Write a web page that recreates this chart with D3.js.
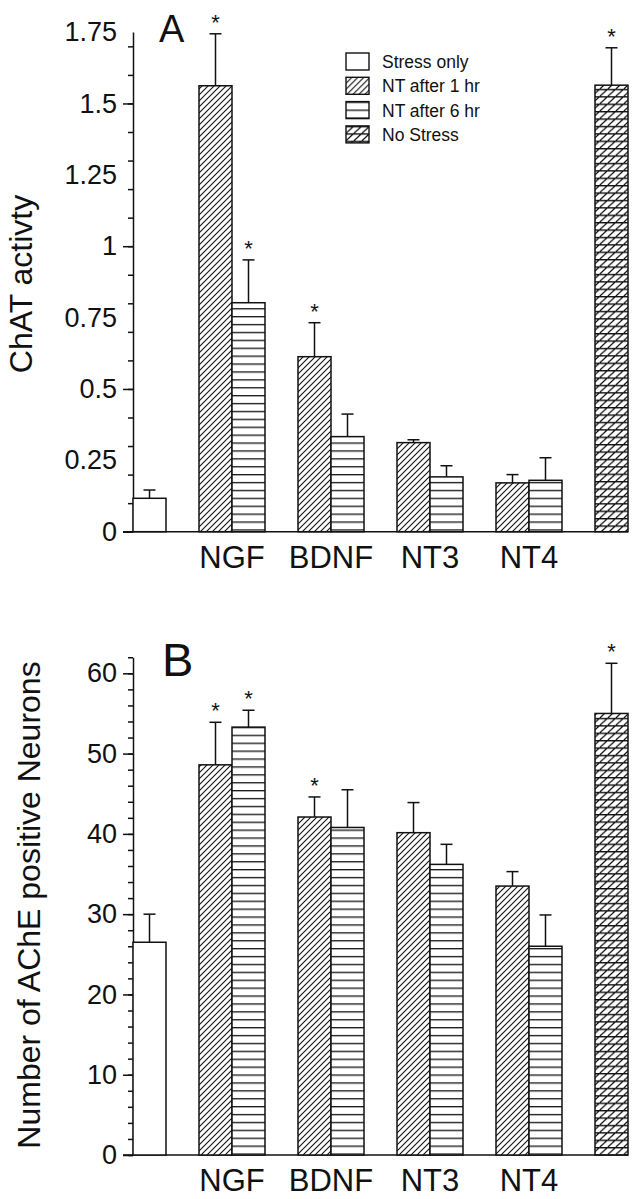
<!DOCTYPE html>
<html>
<head>
<meta charset="utf-8">
<script src="https://cdn.jsdelivr.net/npm/d3@7"></script>
<style>
  html, body { margin: 0; padding: 0; background: #fff; }
  svg { display: block; }
  text { font-family: "Liberation Sans", Arial, Helvetica, sans-serif; fill: #111; }
</style>
</head>
<body>
<svg id="chart" width="638" height="1199"></svg>
<script>
// ---------------- DATA ----------------
const categories = ["NGF", "BDNF", "NT3", "NT4"];
const seriesNames = ["Stress only", "NT after 1 hr", "NT after 6 hr", "No Stress"];

// Panel A: ChAT activity
const stressOnlyA = 0.117, stressOnlyErrA = 0.029;
const nt1hrA = [1.562, 0.613, 0.312, 0.171];
const nt1hrErrA = [0.182, 0.119, 0.010, 0.029];
const nt6hrA = [0.802, 0.333, 0.192, 0.180];
const nt6hrErrA = [0.150, 0.079, 0.039, 0.079];
const noStressA = 1.564, noStressErrA = 0.131;
const starsA = ["NGF|1", "NGF|6", "BDNF|1", "NS"];
const yTicksA = ["0", "0.25", "0.5", "0.75", "1", "1.25", "1.5", "1.75"];
const yMinorA = 0.1, yMajorA = 0.5, yMaxA = 1.75;

// Panel B: AChE positive neurons
const stressOnlyB = 26.5, stressOnlyErrB = 3.5;
const nt1hrB = [48.6, 42.1, 40.15, 33.5];
const nt1hrErrB = [5.3, 2.5, 3.75, 1.8];
const nt6hrB = [53.3, 40.8, 36.2, 26.0];
const nt6hrErrB = [2.1, 4.7, 2.5, 3.9];
const noStressB = 55.0, noStressErrB = 6.25;
const starsB = ["NGF|1", "NGF|6", "BDNF|1", "NS"];
const yTicksB = ["0", "10", "20", "30", "40", "50", "60"];
const yMinorB = 2, yMajorB = 10, yMaxB = 62;

// ---------------- SETUP ----------------
const svg = d3.select("#chart");
svg.append("rect").attr("width", 638).attr("height", 1199).attr("fill", "#fff");
const ink = "#111";

// patterns
const defs = svg.append("defs");
const pDiag = defs.append("pattern").attr("id", "pDiag")
  .attr("patternUnits", "userSpaceOnUse").attr("width", 6).attr("height", 6);
pDiag.append("rect").attr("width", 6).attr("height", 6).attr("fill", "#fff");
pDiag.append("path").attr("d", "M-1,1 L1,-1 M0,6 L6,0 M5,7 L7,5")
  .attr("stroke", ink).attr("stroke-width", 1.1);

const pHor = defs.append("pattern").attr("id", "pHor")
  .attr("patternUnits", "userSpaceOnUse").attr("width", 8).attr("height", 7.9);
pHor.append("rect").attr("width", 8).attr("height", 7.9).attr("fill", "#fff");
pHor.append("path").attr("d", "M0,0.7 H8").attr("stroke", ink).attr("stroke-width", 1.3);

const pBoth = defs.append("pattern").attr("id", "pBoth")
  .attr("patternUnits", "userSpaceOnUse").attr("width", 8).attr("height", 7.4);
pBoth.append("rect").attr("width", 8).attr("height", 7.4).attr("fill", "#fff");
pBoth.append("path").attr("d", "M0,0.7 H8 M0,7.4 L8,0 M-1,0.9 L1,-0.9 M7,8.3 L9,6.5")
  .attr("stroke", ink).attr("stroke-width", 1.2);

const fills = { "Stress only": "#fff", "NT after 1 hr": "url(#pDiag)", "NT after 6 hr": "url(#pHor)", "No Stress": "url(#pBoth)" };

// slot layout from categories
const slots = ["SO"];
categories.forEach(c => { slots.push(c + "|gap", c + "|1", c + "|6"); });
slots.push("NS|gap", "NS");

function buildBars(so, soErr, a1, a1e, a6, a6e, ns, nsErr) {
  const bars = [{ key: "SO", series: "Stress only", v: so, e: soErr }];
  categories.forEach((c, i) => {
    bars.push({ key: c + "|1", series: "NT after 1 hr", v: a1[i], e: a1e[i] });
    bars.push({ key: c + "|6", series: "NT after 6 hr", v: a6[i], e: a6e[i] });
  });
  bars.push({ key: "NS", series: "No Stress", v: ns, e: nsErr });
  return bars;
}

function drawPanel(opt) {
  const g = svg.append("g");
  const x = d3.scaleBand().domain(slots).range([133, 628]).padding(0);
  const y = d3.scaleLinear().domain([0, opt.yMax]).range([opt.y0, opt.yTop]);

  // minor ticks
  const minorVals = d3.range(0, opt.yMax + 1e-9, opt.minor).map(v => +v.toFixed(6));
  g.append("g").attr("transform", "translate(133,0)")
    .call(d3.axisLeft(y).tickValues(minorVals).tickSize(5).tickSizeOuter(0).tickFormat(""))
    .call(s => s.selectAll("line,path").attr("stroke", ink).attr("stroke-width", 1.5));
  const majorVals = d3.range(0, opt.yMax + 1e-9, opt.major).map(v => +v.toFixed(6));
  g.append("g").attr("transform", "translate(133,0)")
    .call(d3.axisLeft(y).tickValues(majorVals).tickSize(10).tickSizeOuter(0).tickFormat(""))
    .call(s => s.select(".domain").remove())
    .call(s => s.selectAll("line").attr("stroke", ink).attr("stroke-width", 1.5));
  // labels
  const lab = g.append("g").attr("transform", "translate(133,0)")
    .call(d3.axisLeft(y).tickValues(opt.tickLabels.map(Number)).tickSize(0).tickPadding(16)
      .tickFormat((d, i) => opt.tickLabels[i]));
  lab.select(".domain").remove();
  lab.selectAll("text").attr("font-size", 27).attr("fill", ink)
    .attr("font-family", "'Liberation Sans', Arial, sans-serif");

  // baseline (x axis)
  g.append("line").attr("x1", 123).attr("x2", x.range()[1])
    .attr("y1", y(0)).attr("y2", y(0)).attr("stroke", ink).attr("stroke-width", 1.6);

  // bars
  const bars = buildBars(...opt.data);
  g.selectAll("rect.bar").data(bars).join("rect").attr("class", "bar")
    .attr("x", d => x(d.key)).attr("width", x.bandwidth())
    .attr("y", d => y(d.v)).attr("height", d => y(0) - y(d.v))
    .attr("fill", d => fills[d.series]).attr("stroke", ink).attr("stroke-width", 1.5);

  // error bars
  const cap = 6;
  const eb = g.selectAll("g.eb").data(bars).join("g").attr("class", "eb");
  eb.append("line").attr("x1", d => x(d.key) + x.bandwidth() / 2).attr("x2", d => x(d.key) + x.bandwidth() / 2)
    .attr("y1", d => y(d.v)).attr("y2", d => y(d.v + d.e)).attr("stroke", ink).attr("stroke-width", 1.5);
  eb.append("line").attr("x1", d => x(d.key) + x.bandwidth() / 2 - cap).attr("x2", d => x(d.key) + x.bandwidth() / 2 + cap)
    .attr("y1", d => y(d.v + d.e)).attr("y2", d => y(d.v + d.e)).attr("stroke", ink).attr("stroke-width", 1.5);

  // significance stars
  g.selectAll("text.star").data(bars.filter(b => opt.stars.includes(b.key))).join("text")
    .attr("class", "star")
    .attr("x", d => x(d.key) + x.bandwidth() / 2)
    .attr("y", d => y(d.v + d.e) - 16 + 12)
    .attr("text-anchor", "middle").attr("font-size", 22).text("*");

  // category labels
  g.selectAll("text.cat").data(categories).join("text").attr("class", "cat")
    .attr("x", c => x(c + "|6"))
    .attr("y", y(0) + 36)
    .attr("text-anchor", "middle").attr("font-size", 31).text(c => c);

  // y title
  g.append("text").attr("transform", `translate(${opt.titleX},${opt.titleY}) rotate(-90)`)
    .attr("text-anchor", "middle").attr("font-size", 32).text(opt.title);

  // panel letter
  g.append("text").attr("x", opt.letterX).attr("y", opt.letterY)
    .attr("font-size", opt.letterSize).text(opt.letter);

  return { x, y };
}

drawPanel({
  yMax: yMaxA, y0: 531.7, yTop: 531.7 - yMaxA * 285.5, minor: yMinorA, major: yMajorA,
  tickLabels: yTicksA,
  data: [stressOnlyA, stressOnlyErrA, nt1hrA, nt1hrErrA, nt6hrA, nt6hrErrA, noStressA, noStressErrA],
  stars: starsA, title: "ChAT activty", titleX: 32, titleY: 284,
  letter: "A", letterX: 159, letterY: 42, letterSize: 38
});

drawPanel({
  yMax: yMaxB, y0: 1155, yTop: 1155 - yMaxB * 8.028, minor: yMinorB, major: yMajorB,
  tickLabels: yTicksB,
  data: [stressOnlyB, stressOnlyErrB, nt1hrB, nt1hrErrB, nt6hrB, nt6hrErrB, noStressB, noStressErrB],
  stars: starsB, title: "Number of AChE positive Neurons", titleX: 40, titleY: 905,
  letter: "B", letterX: 162, letterY: 676, letterSize: 47
});

// legend
const leg = svg.append("g").attr("transform", "translate(346,53)");
const rows = leg.selectAll("g").data(seriesNames).join("g")
  .attr("transform", (d, i) => `translate(0,${i * 24.3})`);
rows.append("rect").attr("width", 23).attr("height", 17)
  .attr("fill", d => fills[d]).attr("stroke", ink).attr("stroke-width", 1.4);
rows.append("text").attr("x", 36).attr("y", 15).attr("font-size", 17.5).text(d => d);
</script>
</body>
</html>
